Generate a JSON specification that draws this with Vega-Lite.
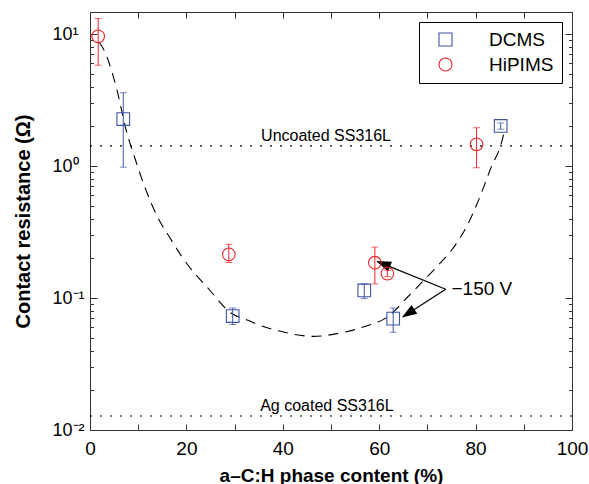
{
  "$schema": "https://vega.github.io/schema/vega-lite/v6.json",
  "width": 482,
  "height": 418,
  "autosize": {"type": "none"},
  "padding": {"left": 90, "top": 12, "right": 17, "bottom": 54},
  "background": "white",
  "config": {
    "view": {"stroke": null},
    "font": "Liberation Sans",
    "axis": {"grid": false, "domainColor": "#333", "tickColor": "#333", "labelColor": "#000", "titleColor": "#000", "labelFont": "Liberation Sans", "titleFont": "Liberation Sans", "domainWidth": 1, "tickWidth": 1},
    "legend": {"orient": "none", "legendX": 329, "legendY": 10, "strokeColor": "#000", "fillColor": "#fff", "padding": 8, "symbolOffset": 9, "labelOffset": 34, "labelFontSize": 19, "labelColor": "#000", "labelFont": "Liberation Sans", "symbolSize": 170, "symbolStrokeWidth": 1.1, "rowPadding": 5, "labelLimit": 200}
  },
  "datasets": {
    "pts": [
      {"series": "DCMS", "x": 6.9, "y": 2.27, "lo": 0.98, "hi": 3.59},
      {"series": "DCMS", "x": 29.6, "y": 0.073, "lo": 0.063, "hi": 0.084},
      {"series": "DCMS", "x": 56.9, "y": 0.114, "lo": 0.099, "hi": 0.128},
      {"series": "DCMS", "x": 62.9, "y": 0.0698, "lo": 0.055, "hi": 0.084},
      {"series": "DCMS", "x": 85.2, "y": 2.01, "lo": 1.9, "hi": 2.12},
      {"series": "HiPIMS", "x": 1.7, "y": 9.6, "lo": 5.8, "hi": 13.1},
      {"series": "HiPIMS", "x": 28.8, "y": 0.214, "lo": 0.186, "hi": 0.255},
      {"series": "HiPIMS", "x": 59.1, "y": 0.185, "lo": 0.128, "hi": 0.243},
      {"series": "HiPIMS", "x": 61.7, "y": 0.153, "lo": 0.145, "hi": 0.162},
      {"series": "HiPIMS", "x": 80.2, "y": 1.46, "lo": 0.97, "hi": 1.95}
    ],
    "curve": [
      {"x": 1.9, "y": 8.7}, {"x": 3.1, "y": 7.3}, {"x": 5.6, "y": 3.76}, {"x": 7.5, "y": 1.87},
      {"x": 9.3, "y": 1.15}, {"x": 11.6, "y": 0.658}, {"x": 13.9, "y": 0.418}, {"x": 16.6, "y": 0.285},
      {"x": 19.0, "y": 0.207}, {"x": 24.9, "y": 0.114}, {"x": 29.0, "y": 0.078}, {"x": 32.8, "y": 0.0677},
      {"x": 35.3, "y": 0.062}, {"x": 40.1, "y": 0.0552}, {"x": 46.3, "y": 0.0512}, {"x": 51.9, "y": 0.0543},
      {"x": 56.7, "y": 0.0603}, {"x": 62.2, "y": 0.074}, {"x": 65.7, "y": 0.1}, {"x": 71.9, "y": 0.172},
      {"x": 75.0, "y": 0.23}, {"x": 78.0, "y": 0.34}, {"x": 80.9, "y": 0.585}, {"x": 83.0, "y": 0.933},
      {"x": 85.7, "y": 1.67}, {"x": 86.0, "y": 1.87}
    ],
    "refs": [
      {"y": 1.42, "label": "Uncoated SS316L", "x": 35.5},
      {"y": 0.01277, "label": "Ag coated SS316L", "x": 35.3}
    ],
    "arrows": [
      {"x": 73.8, "y": 0.1164, "x2": 60.8, "y2": 0.1815},
      {"x": 73.8, "y": 0.1164, "x2": 66.0, "y2": 0.0763}
    ],
    "head1": [{"x": 60.8, "y": 0.1815}],
    "head2": [{"x": 66.0, "y": 0.0763}],
    "note": [{"x": 75.0, "y": 0.1164, "text": "−150 V"}]
  },
  "layer": [
    {
      "data": {"name": "refs"},
      "mark": {"type": "rule", "strokeDash": [2, 8], "strokeWidth": 1.2, "color": "#000"},
      "encoding": {
        "y": {"field": "y", "type": "quantitative", "scale": {"type": "log", "domain": [0.01, 14.68]}, "axis": null}
      }
    },
    {
      "data": {"name": "refs"},
      "mark": {"type": "text", "align": "left", "baseline": "alphabetic", "fontSize": 16, "dy": -5, "color": "#000"},
      "encoding": {
        "x": {"field": "x", "type": "quantitative", "scale": {"domain": [0, 100], "nice": false}, "axis": null},
        "y": {"field": "y", "type": "quantitative", "scale": {"type": "log", "domain": [0.01, 14.68]}, "axis": null},
        "text": {"field": "label"}
      }
    },
    {
      "data": {"name": "curve"},
      "mark": {"type": "line", "interpolate": "monotone", "strokeDash": [10, 7], "strokeWidth": 1.1, "color": "#000"},
      "encoding": {
        "x": {"field": "x", "type": "quantitative", "scale": {"domain": [0, 100], "nice": false},
          "axis": {"orient": "bottom", "values": [0, 10, 20, 30, 40, 50, 60, 70, 80, 90, 100], "labelExpr": "datum.value % 20 == 0 ? datum.label : ''", "tickSize": -6, "labelFontSize": 19, "labelPadding": 15, "labelFlush": false, "title": "a–C:H phase content (%)", "titleFontSize": 19, "titleFontWeight": "bold", "titlePadding": 8}},
        "y": {"field": "y", "type": "quantitative", "scale": {"type": "log", "domain": [0.01, 14.68]},
          "axis": {"orient": "left", "values": [0.01, 0.02, 0.03, 0.04, 0.05, 0.06, 0.07, 0.08, 0.09, 0.1, 0.2, 0.3, 0.4, 0.5, 0.6, 0.7, 0.8, 0.9, 1, 2, 3, 4, 5, 6, 7, 8, 9, 10],
            "labelExpr": "datum.value == 0.01 ? '10⁻²' : datum.value == 0.1 ? '10⁻¹' : datum.value == 1 ? '10⁰' : datum.value == 10 ? '10¹' : ''",
            "tickSize": {"condition": {"test": "datum.value == 0.01 || datum.value == 0.1 || datum.value == 1 || datum.value == 10", "value": -7}, "value": -3.5},
            "labelFontSize": 18, "labelAlign": "left", "labelBaseline": "middle", "labelPadding": 45, "labelFlush": false,
            "title": "Contact resistance (Ω)", "titleFontSize": 20, "titleFontWeight": "bold", "titlePadding": 19}}
      }
    },
    {
      "data": {"name": "arrows"},
      "mark": {"type": "rule", "color": "#000", "strokeWidth": 1.2},
      "encoding": {
        "x": {"field": "x", "type": "quantitative", "scale": {"domain": [0, 100], "nice": false}, "axis": null},
        "y": {"field": "y", "type": "quantitative", "scale": {"type": "log", "domain": [0.01, 14.68]}, "axis": null},
        "x2": {"field": "x2"},
        "y2": {"field": "y2"}
      }
    },
    {
      "data": {"name": "head1"},
      "mark": {"type": "point", "shape": "M0,-1L-0.7,1L0.7,1Z", "filled": true, "color": "#000", "opacity": 1, "size": 225, "angle": 292},
      "encoding": {
        "x": {"field": "x", "type": "quantitative", "scale": {"domain": [0, 100], "nice": false}, "axis": null},
        "y": {"field": "y", "type": "quantitative", "scale": {"type": "log", "domain": [0.01, 14.68]}, "axis": null}
      }
    },
    {
      "data": {"name": "head2"},
      "mark": {"type": "point", "shape": "M0,-1L-0.7,1L0.7,1Z", "filled": true, "color": "#000", "opacity": 1, "size": 225, "angle": 237},
      "encoding": {
        "x": {"field": "x", "type": "quantitative", "scale": {"domain": [0, 100], "nice": false}, "axis": null},
        "y": {"field": "y", "type": "quantitative", "scale": {"type": "log", "domain": [0.01, 14.68]}, "axis": null}
      }
    },
    {
      "data": {"name": "note"},
      "mark": {"type": "text", "align": "left", "baseline": "middle", "fontSize": 19, "color": "#000"},
      "encoding": {
        "x": {"field": "x", "type": "quantitative", "scale": {"domain": [0, 100], "nice": false}, "axis": null},
        "y": {"field": "y", "type": "quantitative", "scale": {"type": "log", "domain": [0.01, 14.68]}, "axis": null},
        "text": {"field": "text"}
      }
    },
    {
      "data": {"name": "pts"},
      "transform": [{"filter": "datum.series == 'DCMS'"}],
      "mark": {"type": "errorbar", "ticks": {"size": 7}, "thickness": 1, "color": "#3d55a5"},
      "encoding": {
        "x": {"field": "x", "type": "quantitative", "scale": {"domain": [0, 100], "nice": false}, "axis": null},
        "y": {"field": "lo", "type": "quantitative", "scale": {"type": "log", "domain": [0.01, 14.68]}, "axis": null},
        "y2": {"field": "hi"}
      }
    },
    {
      "data": {"name": "pts"},
      "transform": [{"filter": "datum.series == 'HiPIMS'"}],
      "mark": {"type": "errorbar", "ticks": {"size": 7}, "thickness": 1, "color": "#ee2229"},
      "encoding": {
        "x": {"field": "x", "type": "quantitative", "scale": {"domain": [0, 100], "nice": false}, "axis": null},
        "y": {"field": "lo", "type": "quantitative", "scale": {"type": "log", "domain": [0.01, 14.68]}, "axis": null},
        "y2": {"field": "hi"}
      }
    },
    {
      "data": {"name": "pts"},
      "mark": {"type": "point", "filled": false, "strokeWidth": 1.1, "opacity": 1, "size": 160},
      "encoding": {
        "x": {"field": "x", "type": "quantitative", "scale": {"domain": [0, 100], "nice": false},
          "axis": {"orient": "top", "values": [0, 10, 20, 30, 40, 50, 60, 70, 80, 90, 100], "labels": false, "tickSize": -6, "title": null}},
        "y": {"field": "y", "type": "quantitative", "scale": {"type": "log", "domain": [0.01, 14.68]},
          "axis": {"orient": "right", "values": [0.01, 0.02, 0.03, 0.04, 0.05, 0.06, 0.07, 0.08, 0.09, 0.1, 0.2, 0.3, 0.4, 0.5, 0.6, 0.7, 0.8, 0.9, 1, 2, 3, 4, 5, 6, 7, 8, 9, 10], "labels": false, "title": null,
            "tickSize": {"condition": {"test": "datum.value == 0.01 || datum.value == 0.1 || datum.value == 1 || datum.value == 10", "value": -7}, "value": -3.5}}},
        "color": {"field": "series", "type": "nominal", "scale": {"domain": ["DCMS", "HiPIMS"], "range": ["#3d55a5", "#ee2229"]}, "legend": {"title": null}},
        "shape": {"field": "series", "type": "nominal", "scale": {"domain": ["DCMS", "HiPIMS"], "range": ["square", "circle"]}, "legend": {"title": null}}
      }
    }
  ],
  "resolve": {"axis": {"x": "independent", "y": "independent"}}
}
